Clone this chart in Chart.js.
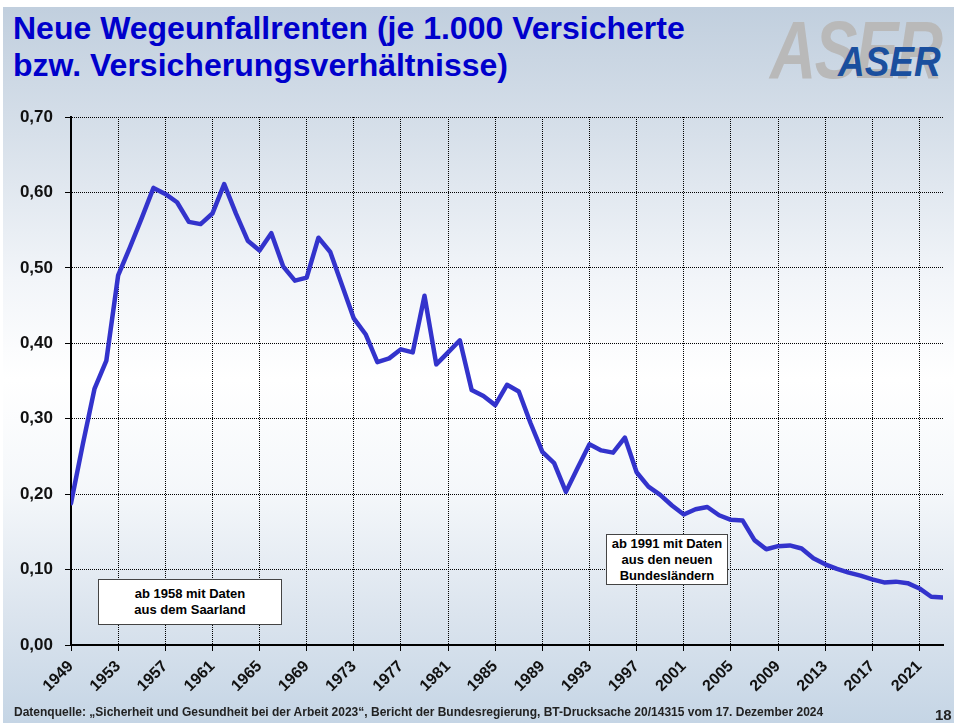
<!DOCTYPE html>
<html>
<head>
<meta charset="utf-8">
<script src="https://cdn.jsdelivr.net/npm/chart.js@4"></script>
<style>
  html, body { margin: 0; padding: 0; background: #fff; }
  body { width: 954px; height: 723px; position: relative; overflow: hidden; font-family: "Liberation Sans", Arial, sans-serif; }
  #bg { position: absolute; left: 3px; top: 7px; right: 0; bottom: 0;
        background: linear-gradient(to bottom, #c1cfde 0%, #d7e0ea 18%, #f2f5f9 38%, #ffffff 52%, #f4f7fa 68%, #dbe4ee 85%, #c5d5e5 100%); }
  #title { position: absolute; left: 13px; top: 10px; color: #0000cc; font-weight: bold; font-size: 32px; line-height: 37px; }
  #logoBig { position: absolute; left: 770px; top: 3px; color: #b9b9b9; font-style: italic; font-weight: bold; font-size: 82px;
             transform: scaleX(0.78); transform-origin: left top; letter-spacing: -2px; }
  #logoSmall { position: absolute; left: 838px; top: 38px; color: #1a4f9e; font-style: italic; font-weight: bold; font-size: 42px;
               transform: scaleX(0.88); transform-origin: left top; }
  canvas { position: absolute; left: 0; top: 0; }
  .note { position: absolute; background: #fff; border: 1px solid #444; font-weight: bold; font-size: 13px; line-height: 16px;
          text-align: center; color: #000; box-sizing: border-box; display: flex; align-items: center; justify-content: center; }
  #foot { position: absolute; left: 14px; top: 705px; font-weight: bold; font-size: 12px; color: #222; white-space: nowrap; }
  #page { position: absolute; left: 935px; top: 706px; font-weight: bold; font-size: 15px; color: #222; }
</style>
</head>
<body>
<div id="bg"></div>
<div id="logoBig">ASER</div>
<div id="logoSmall">ASER</div>
<div id="title">Neue Wegeunfallrenten (je 1.000 Versicherte<br>bzw. Versicherungsverhältnisse)</div>
<canvas id="chart" width="954" height="723"></canvas>
<div class="note" style="left:98px; top:579px; width:184px; height:46px;">ab 1958 mit Daten<br>aus dem Saarland</div>
<div class="note" style="left:606px; top:534px; width:122px; height:51px;">ab 1991 mit Daten<br>aus den neuen<br>Bundesländern</div>
<div id="foot">Datenquelle: „Sicherheit und Gesundheit bei der Arbeit 2023“, Bericht der Bundesregierung, BT-Drucksache 20/14315 vom 17. Dezember 2024</div>
<div id="page">18</div>
<script>
const years = [1949, 1950, 1951, 1952, 1953, 1954, 1955, 1956, 1957, 1958,
  1959, 1960, 1961, 1962, 1963, 1964, 1965, 1966, 1967, 1968,
  1969, 1970, 1971, 1972, 1973, 1974, 1975, 1976, 1977, 1978,
  1979, 1980, 1981, 1982, 1983, 1984, 1985, 1986, 1987, 1988,
  1989, 1990, 1991, 1992, 1993, 1994, 1995, 1996, 1997, 1998,
  1999, 2000, 2001, 2002, 2003, 2004, 2005, 2006, 2007, 2008,
  2009, 2010, 2011, 2012, 2013, 2014, 2015, 2016, 2017, 2018,
  2019, 2020, 2021, 2022, 2023]

const renten = [0.188, 0.266, 0.340, 0.377, 0.490, 0.527, 0.566, 0.606, 0.598, 0.587,
  0.561, 0.558, 0.572, 0.611, 0.572, 0.536, 0.523, 0.546, 0.502, 0.483,
  0.487, 0.540, 0.521, 0.477, 0.433, 0.412, 0.375, 0.380, 0.392, 0.388,
  0.463, 0.372, 0.388, 0.404, 0.338, 0.330, 0.318, 0.345, 0.336, 0.294,
  0.256, 0.241, 0.203, 0.235, 0.266, 0.258, 0.255, 0.275, 0.229, 0.210,
  0.199, 0.185, 0.173, 0.180, 0.183, 0.172, 0.166, 0.165, 0.139, 0.127,
  0.131, 0.132, 0.128, 0.115, 0.107, 0.101, 0.096, 0.092, 0.087, 0.083,
  0.084, 0.082, 0.075, 0.064, 0.063]

const tickYears = [1949, 1953, 1957, 1961, 1965, 1969, 1973, 1977, 1981, 1985,
  1989, 1993, 1997, 2001, 2005, 2009, 2013, 2017, 2021]

const yTicks = [0, 0.1, 0.2, 0.3, 0.4, 0.5, 0.6, 0.7]

const points = years.map(function(y, i) {
  return { x: y, y: renten[i] }
})

const canvas = document.getElementById('chart')
new Chart(canvas, {
  type: 'line',
  data: {
    datasets: [{
      label: 'Neue Wegeunfallrenten',
      data: points,
      borderColor: '#3333cc',
      borderWidth: 4.5,
      borderJoinStyle: 'round',
      borderCapStyle: 'round',
      pointRadius: 0,
      tension: 0
    }]
  },
  options: {
    responsive: false,
    animation: false,
    devicePixelRatio: 1,
    layout: { padding: { left: 0, right: 11, top: 117, bottom: 0 } },
    plugins: { legend: { display: false }, tooltip: { enabled: false } },
    scales: {
      x: {
        type: 'linear',
        min: years[0],
        max: years[years.length - 1],
        afterBuildTicks: function(scale) {
          scale.ticks = tickYears.map(v => ({ value: v }))
        },
        afterFit: function(scale) { scale.height = 78 },
        grid: { color: '#000', lineWidth: 1, tickLength: 6, drawTicks: true },
        border: { color: '#000', width: 2, dash: [1, 1] },
        ticks: {
          autoSkip: false,
          minRotation: 45,
          maxRotation: 45,
          padding: 6,
          color: '#111',
          font: { family: 'Liberation Sans', size: 16, weight: 'bold' },
          callback: v => String(v)
        }
      },
      y: {
        min: 0,
        max: 0.7,
        afterBuildTicks: function(scale) {
          scale.ticks = yTicks.map(v => ({ value: v }))
        },
        afterFit: function(scale) { scale.width = 71 },
        grid: { color: '#000', lineWidth: 1, tickLength: 6, drawTicks: true },
        border: { color: '#000', width: 2, dash: [1, 1] },
        ticks: {
          padding: 12,
          color: '#111',
          font: { family: 'Liberation Sans', size: 17, weight: 'bold' },
          callback: v => v.toFixed(2).replace('.', ',')
        }
      }
    }
  }
})
</script>
</body>
</html>
